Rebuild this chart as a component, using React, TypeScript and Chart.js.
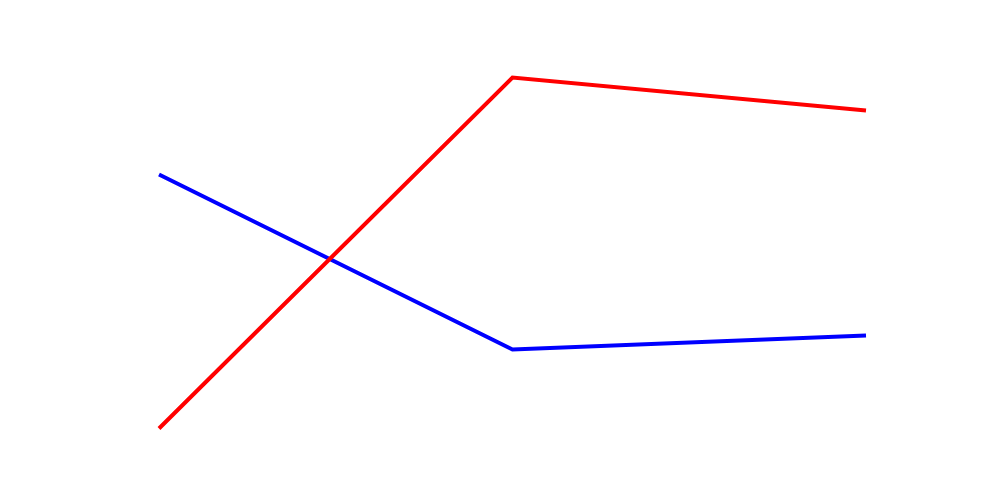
import React, { useEffect, useRef } from "react";
import { Chart, registerables } from "chart.js";

Chart.register(...registerables);

const categories = ["A", "B", "C"];
const redValues = [5.5, 93.25, 85];
const blueValues = [69, 25.25, 28.75];

export default function App() {
  const ref = useRef<HTMLCanvasElement | null>(null);
  useEffect(() => {
    if (!ref.current) return;
    const chart = new Chart(ref.current, {
      type: "line",
      data: {
        labels: categories,
        datasets: [
          {
            data: redValues,
            borderColor: "#ff0000",
            borderWidth: 4,
            pointRadius: 0,
            fill: false,
            tension: 0,
          },
          {
            data: blueValues,
            borderColor: "#0000ff",
            borderWidth: 4,
            pointRadius: 0,
            fill: false,
            tension: 0,
          },
        ],
      },
      options: {
        responsive: false,
        animation: false,
        layout: { padding: { left: 159, right: 134, top: 50.5, bottom: 49.5 } },
        plugins: { legend: { display: false }, tooltip: { enabled: false } },
        scales: {
          x: { display: false, offset: false },
          y: { display: false, min: 0, max: 100 },
        },
      },
    });
    return () => chart.destroy();
  }, []);
  return (
    <div style={{ position: "fixed", left: 0, top: 0, width: 1000, height: 500, background: "#fff" }}>
      <canvas ref={ref} width={1000} height={500} />
    </div>
  );
}
